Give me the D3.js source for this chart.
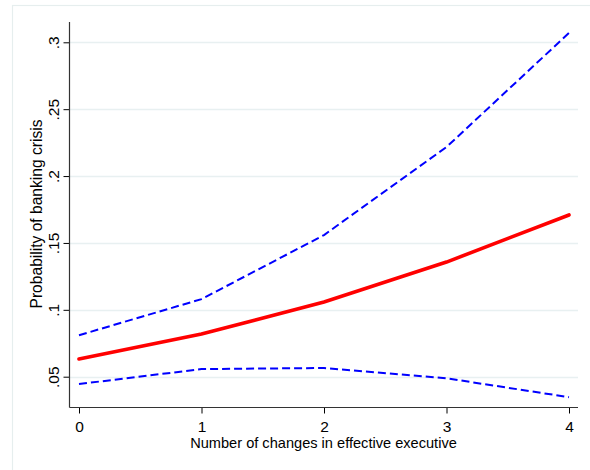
<!DOCTYPE html>
<html>
<head>
<meta charset="utf-8">
<script src="https://cdn.jsdelivr.net/npm/d3@7"></script>
<style>
  html, body { margin: 0; padding: 0; background: #ffffff; }
  svg { display: block; }
  text { font-family: "Liberation Sans", Arial, sans-serif; fill: #000; }
</style>
</head>
<body>
<svg id="chart" width="590" height="470"></svg>
<script>
// ---- Data ----
const changes = [0, 1, 2, 3, 4];
const probability = [0.0632, 0.0819, 0.1058, 0.1357, 0.1709];
const upperCI = [0.0810, 0.1080, 0.1559, 0.2217, 0.3070];
const lowerCI = [0.0445, 0.0557, 0.0565, 0.0488, 0.0347];
const xTicks = [0, 1, 2, 3, 4];
const yTicks = [0.05, 0.1, 0.15, 0.2, 0.25, 0.3];
const yTickLabels = [".05", ".1", ".15", ".2", ".25", ".3"];
const xTitle = "Number of changes in effective executive";
const yTitle = "Probability of banking crisis";

// ---- Layout ----
const svg = d3.select("#chart");
const axisX = 69.5, axisY = 407.5, plotRight = 578;

const x = d3.scaleLinear().domain([0, 4]).range([79, 569]);
const y = d3.scaleLinear().domain([0.05, 0.3]).range([376.7, 42.3]);

// outer frame
svg.append("rect")
  .attr("x", 12.5).attr("y", 5.5).attr("width", 620).attr("height", 500)
  .attr("fill", "none").attr("stroke", "#e6eeee").attr("stroke-width", 1.2);

// gridlines
svg.append("g").selectAll("line").data(yTicks).join("line")
  .attr("x1", axisX).attr("x2", plotRight)
  .attr("y1", d => Math.round(y(d)) + 0.5).attr("y2", d => Math.round(y(d)) + 0.5)
  .attr("stroke", "#e8f0f1").attr("stroke-width", 1.5);

// y axis
const yAxis = d3.axisLeft(y).tickValues(yTicks)
  .tickFormat((d, i) => yTickLabels[i]).tickSize(6).tickSizeOuter(0).tickPadding(4);
const gy = svg.append("g").attr("transform", `translate(${axisX},0)`).call(yAxis);
gy.select(".domain").remove();
gy.selectAll(".tick line").attr("stroke", "#000").attr("stroke-width", 1);
gy.selectAll(".tick text")
  .attr("font-size", 15.5).attr("font-family", "Liberation Sans, Arial, sans-serif")
  .attr("text-anchor", "middle").attr("x", null).attr("dy", null)
  .attr("transform", "translate(-10.5,0) rotate(-90)");
svg.append("line").attr("x1", axisX).attr("x2", axisX).attr("y1", 22).attr("y2", axisY)
  .attr("stroke", "#333").attr("stroke-width", 1.2);

// x axis
const xAxis = d3.axisBottom(x).tickValues(xTicks).tickFormat(d3.format("d"))
  .tickSize(6).tickSizeOuter(0).tickPadding(5);
const gx = svg.append("g").attr("transform", `translate(0,${axisY})`).call(xAxis);
gx.select(".domain").remove();
gx.selectAll(".tick line").attr("stroke", "#000").attr("stroke-width", 1);
gx.selectAll(".tick text").attr("font-size", 15.5)
  .attr("font-family", "Liberation Sans, Arial, sans-serif").attr("y", 24.5).attr("dy", null);
svg.append("line").attr("x1", axisX).attr("x2", plotRight).attr("y1", axisY).attr("y2", axisY)
  .attr("stroke", "#333").attr("stroke-width", 1.2);

// axis titles
svg.append("text").attr("x", 323.5).attr("y", 447.5).attr("text-anchor", "middle")
  .attr("font-size", 14.6).text(xTitle);
svg.append("text").attr("transform", "translate(41.5,214) rotate(-90)")
  .attr("text-anchor", "middle").attr("font-size", 15.6).text(yTitle);

// lines
const line = vals => d3.line().x((d, i) => x(changes[i])).y(d => y(d))(vals);

svg.append("path").attr("d", line(upperCI)).attr("fill", "none")
  .attr("stroke", "#0000ff").attr("stroke-width", 2).attr("stroke-dasharray", "8,4");
svg.append("path").attr("d", line(lowerCI)).attr("fill", "none")
  .attr("stroke", "#0000ff").attr("stroke-width", 2).attr("stroke-dasharray", "8,4");
svg.append("path").attr("d", line(probability)).attr("fill", "none")
  .attr("stroke", "#ff0000").attr("stroke-width", 3.6).attr("stroke-linecap", "round");
</script>
</body>
</html>
